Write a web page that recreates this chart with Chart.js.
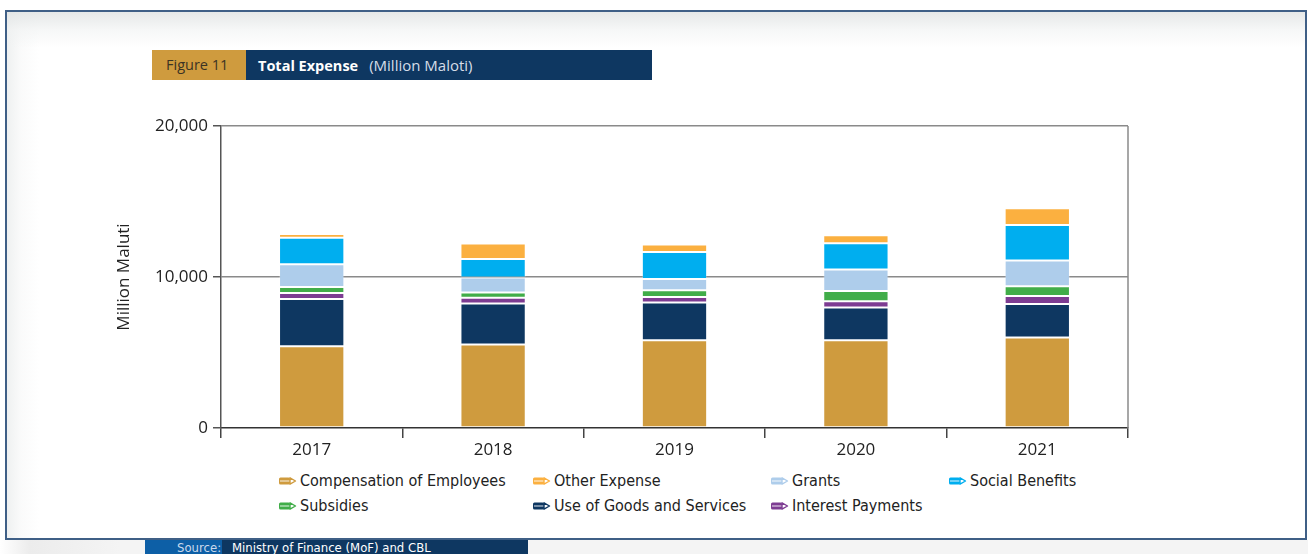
<!DOCTYPE html>
<html>
<head>
<meta charset="utf-8">
<script src="https://cdn.jsdelivr.net/npm/chart.js@4/dist/chart.umd.min.js"></script>
<style>
  html, body { margin:0; padding:0; width:1308px; height:554px; overflow:hidden; background:#fff; font-family:"Open Sans", sans-serif; }
  #frame { position:absolute; left:5px; top:10px; width:1298px; height:526px; border:2px solid #3f5f86; box-sizing:content-box;
    background: linear-gradient(to bottom, rgba(225,228,228,0.85) 0px, rgba(240,242,242,0.6) 18px, rgba(255,255,255,0) 36px),
                linear-gradient(to right, rgba(235,237,237,0.8) 0px, rgba(245,246,246,0.5) 14px, rgba(255,255,255,0) 32px), #fff; }
  #below { position:absolute; left:0; top:540px; width:1308px; height:14px; background:linear-gradient(to right,#fff 0px,#ececec 30px,#f4f4f4 120px,#f4f4f4 100%); }
  #titlebar { position:absolute; left:152px; top:50px; height:30px; width:500px; }
  #fig { position:absolute; left:0; top:0; width:94px; height:30px; background:#cf9b3e; color:#3b3324; font-size:14.5px; line-height:30px; padding-left:14px; box-sizing:border-box; }
  #ttl { position:absolute; left:94px; top:0; width:406px; height:30px; background:#0e3761; color:#fff; font-size:14.5px; line-height:30px; padding-left:12px; box-sizing:border-box; }
  #ttl b { font-weight:700; }
  #ttl span { color:#d6dde8; margin-left:11px; font-size:15px; }
  #src { position:absolute; left:145px; top:540px; height:14px; width:383px; overflow:hidden; }
  #src1 { position:absolute; left:0; top:0; width:77px; height:14px; background:#0d5fa6; color:#c9d9ec; font-size:13px; line-height:16px; padding-left:32px; box-sizing:border-box; font-family:"DejaVu Sans Condensed",sans-serif; white-space:nowrap;}
  #src2 { position:absolute; left:77px; top:0; width:306px; height:14px; background:#0e3761; color:#fff; font-size:13px; line-height:16px; padding-left:10px; box-sizing:border-box; font-family:"DejaVu Sans Condensed",sans-serif; white-space:nowrap;}
  canvas#c { position:absolute; left:0; top:0; }
  .lg { position:absolute; font-size:16px; color:#222; white-space:nowrap; line-height:20px; font-family:"Liberation Sans Narrow","DejaVu Sans Condensed","Open Sans",sans-serif; }
  .lg svg { position:absolute; left:-22px; top:5px; }
</style>
</head>
<body>
<div id="frame"></div>
<div id="below"></div>
<div id="titlebar"><div id="fig">Figure 11</div><div id="ttl"><b>Total Expense</b><span>(Million Maloti)</span></div></div>
<div id="legend"></div>
<canvas id="c" width="1308" height="554"></canvas>
<div id="src"><div id="src1">Source:</div><div id="src2">Ministry of Finance (MoF) and CBL</div></div>
<script>
// ---- data ----
const years = ['2017', '2018', '2019', '2020', '2021'];
const compensation   = [5420, 5530, 5810, 5810, 5990];
const goodsServices  = [3120, 2720, 2500, 2170, 2230];
const interest       = [400, 380, 370, 420, 530];
const subsidies      = [400, 350, 440, 680, 640];
const grants         = [1510, 980, 750, 1420, 1700];
const socialBenefits = [1750, 1240, 1790, 1740, 2360];
const otherExpense   = [250, 1020, 490, 530, 1110];
const yTicks = [0, 10000, 20000];

const seriesNames = ['Compensation of Employees', 'Use of Goods and Services', 'Interest Payments', 'Subsidies', 'Grants', 'Social Benefits', 'Other Expense'];
const seriesData = [compensation, goodsServices, interest, subsidies, grants, socialBenefits, otherExpense];
const seriesColors = ['#cf9b3e', '#0e3761', '#7d3c92', '#41ad49', '#aecdeb', '#00aeef', '#fbb040'];

// legend layout (reference order: 4 columns, 2 rows)
const legendOrder = ['Compensation of Employees', 'Other Expense', 'Grants', 'Social Benefits', 'Subsidies', 'Use of Goods and Services', 'Interest Payments'];
const legendCols = [300, 554, 792, 970];
const legendRows = [471, 496];

const lg = document.getElementById('legend');
legendOrder.forEach((name, i) => {
  const col = i < 4 ? i : [0, 1, 2][i - 4];
  const row = i < 4 ? 0 : 1;
  const color = seriesColors[seriesNames.indexOf(name)];
  const d = document.createElement('div');
  d.className = 'lg';
  d.style.left = legendCols[col] + 'px';
  d.style.top = legendRows[row] + 'px';
  d.innerHTML = `<svg width="20" height="10" viewBox="0 0 20 10"><rect x="1" y="1.5" width="11" height="7" rx="1.5" fill="${color}"/><rect x="2" y="4.2" width="10" height="1.6" fill="#fff" opacity="0.55"/><path d="M12 1.8 L17.5 5 L12 8.2 Z" fill="#fff" stroke="${color}" stroke-width="1.4" stroke-linejoin="round"/></svg>` + name;
  lg.appendChild(d);
});

const rightBorder = {
  id: 'rightBorder',
  afterDraw(chart) {
    const { ctx, chartArea } = chart;
    ctx.save();
    ctx.strokeStyle = '#8a8a8a';
    ctx.lineWidth = 1.5;
    ctx.beginPath();
    ctx.moveTo(chartArea.right, chartArea.top);
    ctx.lineTo(chartArea.right, chartArea.bottom);
    ctx.stroke();
    ctx.restore();
  }
};

new Chart(document.getElementById('c'), {
  type: 'bar',
  data: {
    labels: years,
    datasets: seriesNames.map((n, i) => ({
      label: n,
      data: seriesData[i],
      backgroundColor: seriesColors[i],
      borderColor: 'rgba(255,255,255,0.25)',
      borderWidth: 1,
      borderSkipped: false,
      categoryPercentage: 1,
      barPercentage: 0.36
    }))
  },
  options: {
    responsive: false,
    devicePixelRatio: 1,
    animation: false,
    layout: { padding: { left: 114, top: 126, right: 180, bottom: 0 } },
    plugins: { legend: { display: false }, tooltip: { enabled: false }, title: { display: false } },
    scales: {
      x: {
        stacked: true,
        afterFit: s => { s.height = 126; },
        grid: { drawOnChartArea: false, tickLength: 10, tickColor: '#444', lineWidth: 1.5, offset: true },
        border: { color: '#333', width: 1.5 },
        ticks: { color: '#222', font: { family: 'Open Sans', size: 17 }, padding: 2 }
      },
      y: {
        stacked: true,
        min: 0, max: 20000,
        afterFit: s => { s.width = 107; },
        afterBuildTicks: s => { s.ticks = yTicks.map(v => ({ value: v })); },
        grid: { color: c => (c.tick && c.tick.value === 0) ? 'rgba(0,0,0,0)' : '#8a8a8a', lineWidth: 1.5, tickLength: 8, tickColor: '#555' },
        border: { color: '#555', width: 1.5 },
        ticks: { color: '#222', font: { family: 'Open Sans', size: 17 }, padding: 5, callback: v => v.toLocaleString('en-US') },
        title: { display: true, text: 'Million Maluti', color: '#222', font: { family: 'Open Sans', size: 17 }, padding: 0 }
      }
    }
  },
  plugins: [rightBorder]
});
</script>
</body>
</html>
